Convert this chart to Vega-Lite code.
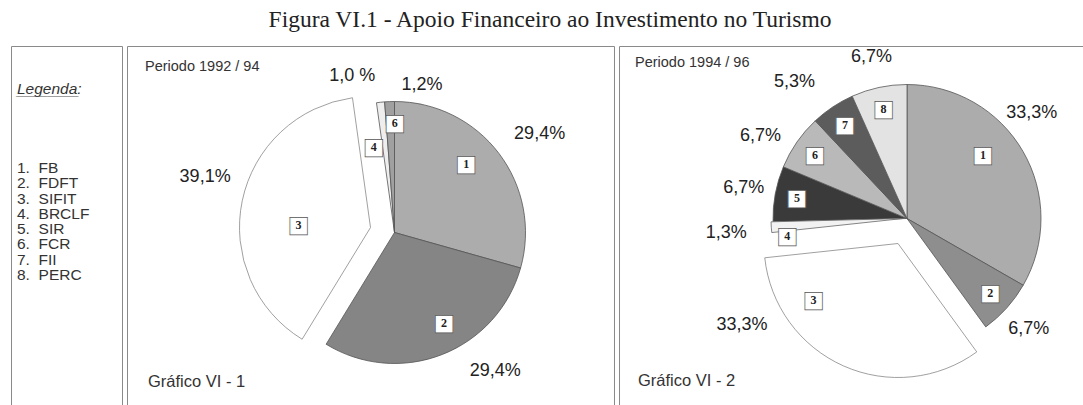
{
  "$schema": "https://vega.github.io/schema/vega-lite/v6.json",
  "background": "#ffffff",
  "padding": {"left": 10, "top": 8, "right": 0, "bottom": 0},
  "title": {"text": "Figura VI.1 - Apoio Financeiro ao Investimento no Turismo", "font": "Liberation Serif", "fontSize": 23.5, "fontWeight": "normal", "color": "#222222", "anchor": "middle", "offset": 14, "limit": 0},
  "config": {"view": {"stroke": "#8a8a8a", "strokeWidth": 1}},
  "spacing": 3,
  "resolve": {"scale": {"theta": "independent", "fill": "independent"}},
  "datasets": {
    "p1": [
      {"item": 1, "pct": 29.4, "label": "29,4%"},
      {"item": 2, "pct": 29.4, "label": "29,4%"},
      {"item": 3, "pct": 39.1, "label": "39,1%"},
      {"item": 4, "pct": 1.0, "label": "1,0 %"},
      {"item": 6, "pct": 1.2, "label": "1,2%"}
    ],
    "p2": [
      {"item": 1, "pct": 33.3, "label": "33,3%"},
      {"item": 2, "pct": 6.7, "label": "6,7%"},
      {"item": 3, "pct": 33.3, "label": "33,3%"},
      {"item": 4, "pct": 1.3, "label": "1,3%"},
      {"item": 5, "pct": 6.7, "label": "6,7%"},
      {"item": 6, "pct": 6.7, "label": "6,7%"},
      {"item": 7, "pct": 5.3, "label": "5,3%"},
      {"item": 8, "pct": 6.7, "label": "6,7%"}
    ],
    "leg": [
      {"item": 1, "entry": "1.\u00a0\u00a0FB"},
      {"item": 2, "entry": "2.\u00a0\u00a0FDFT"},
      {"item": 3, "entry": "3.\u00a0\u00a0SIFIT"},
      {"item": 4, "entry": "4.\u00a0\u00a0BRCLF"},
      {"item": 5, "entry": "5.\u00a0\u00a0SIR"},
      {"item": 6, "entry": "6.\u00a0\u00a0FCR"},
      {"item": 7, "entry": "7.\u00a0\u00a0FII"},
      {"item": 8, "entry": "8.\u00a0\u00a0PERC"}
    ]
  },
  "hconcat": [
    {
      "width": 111,
      "height": 359,
      "view": {"stroke": "#8a8a8a", "strokeWidth": 1},
      "layer": [
        {
          "data": {"values": [{}]},
          "layer": [
            {"mark": {"type": "text", "text": "Legenda:", "x": 6, "y": 43, "align": "left", "baseline": "middle", "font": "Liberation Sans", "fontStyle": "italic", "fontSize": 15.5, "fill": "#333333"}, "encoding": {}},
            {"mark": {"type": "text", "text": "________", "x": 6, "y": 45, "align": "left", "baseline": "middle", "font": "Liberation Sans", "fontStyle": "italic", "fontSize": 14, "fill": "#555555"}, "encoding": {}}
          ]
        },
        {
          "data": {"name": "leg"},
          "mark": {"type": "text", "x": 6, "align": "left", "baseline": "middle", "font": "Liberation Sans", "fontSize": 15.5, "letterSpacing": 1, "fill": "#333333"},
          "encoding": {
            "y": {"field": "item", "type": "quantitative", "scale": {"domain": [-6.98, 16.5], "reverse": true, "nice": false, "zero": false}, "axis": null},
            "text": {"field": "entry"}
          }
        }
      ]
    },
    {
      "width": 487,
      "height": 359,
      "view": {"stroke": "#8a8a8a", "strokeWidth": 1},
      "layer": [
        {
          "data": {"name": "p1"},
          "transform": [
            {"stack": "pct", "groupby": [], "sort": [{"field": "item", "order": "ascending"}], "as": ["t0", "t1"]},
            {"calculate": "(datum.t0 + datum.t1) / 2", "as": "mid"}
          ],
          "layer": [
            {
              "transform": [{"filter": "datum.item != 3"}],
              "mark": {"type": "arc", "outerRadius": 131, "stroke": "#555555", "strokeWidth": 0.8, "xOffset": 24, "yOffset": 7},
              "encoding": {
                "theta": {"field": "t0", "type": "quantitative", "scale": {"domain": [0, 100.1]}},
                "theta2": {"field": "t1"},
                "fill": {"field": "item", "type": "nominal", "scale": {"domain": [1, 2, 3, 4, 6], "range": ["#acacac", "#858585", "#ffffff", "#eeeeee", "#a0a0a0"]}, "legend": null}
              }
            },
            {
              "transform": [{"filter": "datum.item == 3"}],
              "mark": {"type": "arc", "outerRadius": 131, "stroke": "#888888", "strokeWidth": 0.8, "xOffset": 0, "yOffset": 2},
              "encoding": {
                "theta": {"field": "t0", "type": "quantitative"},
                "theta2": {"field": "t1"},
                "fill": {"field": "item", "type": "nominal", "legend": null}
              }
            },
            {
              "transform": [{"filter": "datum.item == 1"}],
              "encoding": {"theta": {"field": "mid", "type": "quantitative", "stack": false}},
              "layer": [
                {"mark": {"type": "text", "text": "■", "font": "DejaVu Sans", "fontSize": 23, "fill": "#ffffff", "stroke": "#555555", "strokeWidth": 0.7, "align": "center", "baseline": "middle", "radius": 100, "xOffset": 24, "yOffset": 7, "dx": -8, "dy": -8}},
                {"mark": {"type": "text", "font": "Liberation Serif", "fontWeight": "bold", "fontSize": 12, "fill": "#222222", "align": "center", "baseline": "middle", "radius": 100, "xOffset": 24, "yOffset": 7, "dx": -8, "dy": -8}, "encoding": {"text": {"field": "item"}}},
                {"mark": {"type": "text", "font": "Liberation Sans", "fontSize": 18, "letterSpacing": 0.8, "fill": "#222222", "align": "center", "baseline": "middle", "radius": 172, "xOffset": 24, "yOffset": 7, "dx": 8, "dy": 5}, "encoding": {"text": {"field": "label"}}}
              ]
            },
            {
              "transform": [{"filter": "datum.item == 2"}],
              "encoding": {"theta": {"field": "mid", "type": "quantitative", "stack": false}},
              "layer": [
                {"mark": {"type": "text", "text": "■", "font": "DejaVu Sans", "fontSize": 23, "fill": "#ffffff", "stroke": "#555555", "strokeWidth": 0.7, "align": "center", "baseline": "middle", "radius": 100, "xOffset": 24, "yOffset": 7, "dx": 13, "dy": -3}},
                {"mark": {"type": "text", "font": "Liberation Serif", "fontWeight": "bold", "fontSize": 12, "fill": "#222222", "align": "center", "baseline": "middle", "radius": 100, "xOffset": 24, "yOffset": 7, "dx": 13, "dy": -3}, "encoding": {"text": {"field": "item"}}},
                {"mark": {"type": "text", "font": "Liberation Sans", "fontSize": 18, "letterSpacing": 0.8, "fill": "#222222", "align": "center", "baseline": "middle", "radius": 172, "xOffset": 24, "yOffset": 7, "dx": 38, "dy": -22}, "encoding": {"text": {"field": "label"}}}
              ]
            },
            {
              "transform": [{"filter": "datum.item == 3"}],
              "encoding": {"theta": {"field": "mid", "type": "quantitative", "stack": false}},
              "layer": [
                {"mark": {"type": "text", "text": "■", "font": "DejaVu Sans", "fontSize": 23, "fill": "#ffffff", "stroke": "#555555", "strokeWidth": 0.7, "align": "center", "baseline": "middle", "radius": 100, "xOffset": 0, "yOffset": 2, "dx": 26, "dy": 18}},
                {"mark": {"type": "text", "font": "Liberation Serif", "fontWeight": "bold", "fontSize": 12, "fill": "#222222", "align": "center", "baseline": "middle", "radius": 100, "xOffset": 0, "yOffset": 2, "dx": 26, "dy": 18}, "encoding": {"text": {"field": "item"}}},
                {"mark": {"type": "text", "font": "Liberation Sans", "fontSize": 18, "letterSpacing": 0.8, "fill": "#222222", "align": "center", "baseline": "middle", "radius": 172, "xOffset": 0, "yOffset": 2, "dx": 3, "dy": -15}, "encoding": {"text": {"field": "label"}}}
              ]
            },
            {
              "transform": [{"filter": "datum.item == 4"}],
              "encoding": {"theta": {"field": "mid", "type": "quantitative", "stack": false}},
              "layer": [
                {"mark": {"type": "text", "text": "■", "font": "DejaVu Sans", "fontSize": 23, "fill": "#ffffff", "stroke": "#555555", "strokeWidth": 0.7, "align": "center", "baseline": "middle", "radius": 100, "xOffset": 24, "yOffset": 7, "dx": -10, "dy": 14}},
                {"mark": {"type": "text", "font": "Liberation Serif", "fontWeight": "bold", "fontSize": 12, "fill": "#222222", "align": "center", "baseline": "middle", "radius": 100, "xOffset": 24, "yOffset": 7, "dx": -10, "dy": 14}, "encoding": {"text": {"field": "item"}}},
                {"mark": {"type": "text", "font": "Liberation Sans", "fontSize": 18, "letterSpacing": 0.8, "fill": "#222222", "align": "center", "baseline": "middle", "radius": 172, "xOffset": 24, "yOffset": 7, "dx": -24, "dy": 15}, "encoding": {"text": {"field": "label"}}}
              ]
            },
            {
              "transform": [{"filter": "datum.item == 6"}],
              "encoding": {"theta": {"field": "mid", "type": "quantitative", "stack": false}},
              "layer": [
                {"mark": {"type": "text", "text": "■", "font": "DejaVu Sans", "fontSize": 23, "fill": "#ffffff", "stroke": "#555555", "strokeWidth": 0.7, "align": "center", "baseline": "middle", "radius": 100, "xOffset": 24, "yOffset": 7, "dx": 4, "dy": -10}},
                {"mark": {"type": "text", "font": "Liberation Serif", "fontWeight": "bold", "fontSize": 12, "fill": "#222222", "align": "center", "baseline": "middle", "radius": 100, "xOffset": 24, "yOffset": 7, "dx": 4, "dy": -10}, "encoding": {"text": {"field": "item"}}},
                {"mark": {"type": "text", "font": "Liberation Sans", "fontSize": 18, "letterSpacing": 0.8, "fill": "#222222", "align": "center", "baseline": "middle", "radius": 172, "xOffset": 24, "yOffset": 7, "dx": 34, "dy": 24}, "encoding": {"text": {"field": "label"}}}
              ]
            }
          ]
        },
        {
          "data": {"values": [{}]},
          "layer": [
            {"mark": {"type": "text", "text": "Periodo 1992 / 94", "x": 18, "y": 21, "align": "left", "baseline": "middle", "font": "Liberation Sans", "fontSize": 14.5, "letterSpacing": 0.8, "fill": "#333333"}, "encoding": {}},
            {"mark": {"type": "text", "text": "Gráfico VI - 1", "x": 21, "y": 336, "align": "left", "baseline": "middle", "font": "Liberation Sans", "fontSize": 16.5, "letterSpacing": 0.8, "fill": "#333333"}, "encoding": {}}
          ]
        }
      ]
    },
    {
      "width": 470,
      "height": 359,
      "view": {"stroke": "#8a8a8a", "strokeWidth": 1},
      "layer": [
        {
          "data": {"name": "p2"},
          "transform": [
            {"stack": "pct", "groupby": [], "sort": [{"field": "item", "order": "ascending"}], "as": ["t0", "t1"]},
            {"calculate": "(datum.t0 + datum.t1) / 2", "as": "mid"}
          ],
          "layer": [
            {
              "transform": [{"filter": "datum.item != 3 && datum.item != 4"}],
              "mark": {"type": "arc", "outerRadius": 134, "stroke": "#555555", "strokeWidth": 0.8, "xOffset": 53, "yOffset": -7},
              "encoding": {
                "theta": {"field": "t0", "type": "quantitative", "scale": {"domain": [0, 100]}},
                "theta2": {"field": "t1"},
                "fill": {"field": "item", "type": "nominal", "scale": {"domain": [1, 2, 3, 4, 5, 6, 7, 8], "range": ["#acacac", "#8e8e8e", "#ffffff", "#f2f2f2", "#3a3a3a", "#b9b9b9", "#5c5c5c", "#e3e3e3"]}, "legend": null}
              }
            },
            {
              "transform": [{"filter": "datum.item == 3"}],
              "mark": {"type": "arc", "outerRadius": 134, "stroke": "#888888", "strokeWidth": 0.8, "xOffset": 44, "yOffset": 18},
              "encoding": {
                "theta": {"field": "t0", "type": "quantitative"},
                "theta2": {"field": "t1"},
                "fill": {"field": "item", "type": "nominal", "legend": null}
              }
            },
            {
              "transform": [{"filter": "datum.item == 4"}],
              "mark": {"type": "arc", "outerRadius": 132, "stroke": "#666666", "strokeWidth": 0.8, "xOffset": 49, "yOffset": -7},
              "encoding": {
                "theta": {"field": "t0", "type": "quantitative"},
                "theta2": {"field": "t1"},
                "fill": {"field": "item", "type": "nominal", "legend": null}
              }
            },
            {
              "transform": [{"filter": "datum.item == 2 || datum.item >= 5"}],
              "encoding": {"theta": {"field": "mid", "type": "quantitative", "stack": false}},
              "layer": [
                {"mark": {"type": "text", "text": "■", "font": "DejaVu Sans", "fontSize": 23, "fill": "#ffffff", "stroke": "#555555", "strokeWidth": 0.7, "align": "center", "baseline": "middle", "radius": 112, "xOffset": 53, "yOffset": -7}},
                {"mark": {"type": "text", "font": "Liberation Serif", "fontWeight": "bold", "fontSize": 12, "fill": "#222222", "align": "center", "baseline": "middle", "radius": 112, "xOffset": 53, "yOffset": -7}, "encoding": {"text": {"field": "item"}}}
              ]
            },
            {
              "transform": [{"filter": "datum.item == 2 || datum.item == 5 || datum.item == 8"}],
              "mark": {"type": "text", "font": "Liberation Sans", "fontSize": 18, "letterSpacing": 0.8, "fill": "#222222", "align": "center", "baseline": "middle", "radius": 165, "xOffset": 52, "yOffset": -7},
              "encoding": {"theta": {"field": "mid", "type": "quantitative", "stack": false}, "text": {"field": "label"}}
            },
            {
              "transform": [{"filter": "datum.item == 6"}],
              "mark": {"type": "text", "font": "Liberation Sans", "fontSize": 18, "letterSpacing": 0.8, "fill": "#222222", "align": "center", "baseline": "middle", "radius": 165, "xOffset": 52, "yOffset": -7, "dx": -10, "dy": 12},
              "encoding": {"theta": {"field": "mid", "type": "quantitative", "stack": false}, "text": {"field": "label"}}
            },
            {
              "transform": [{"filter": "datum.item == 7"}],
              "mark": {"type": "text", "font": "Liberation Sans", "fontSize": 18, "letterSpacing": 0.8, "fill": "#222222", "align": "center", "baseline": "middle", "radius": 165, "xOffset": 52, "yOffset": -7, "dx": -20, "dy": 1},
              "encoding": {"theta": {"field": "mid", "type": "quantitative", "stack": false}, "text": {"field": "label"}}
            },
            {
              "transform": [{"filter": "datum.item == 1"}],
              "encoding": {"theta": {"field": "mid", "type": "quantitative", "stack": false}},
              "layer": [
                {"mark": {"type": "text", "text": "■", "font": "DejaVu Sans", "fontSize": 23, "fill": "#ffffff", "stroke": "#555555", "strokeWidth": 0.7, "align": "center", "baseline": "middle", "radius": 112, "xOffset": 53, "yOffset": -7, "dx": -21, "dy": -7}},
                {"mark": {"type": "text", "font": "Liberation Serif", "fontWeight": "bold", "fontSize": 12, "fill": "#222222", "align": "center", "baseline": "middle", "radius": 112, "xOffset": 53, "yOffset": -7, "dx": -21, "dy": -7}, "encoding": {"text": {"field": "item"}}},
                {"mark": {"type": "text", "font": "Liberation Sans", "fontSize": 18, "letterSpacing": 0.8, "fill": "#222222", "align": "center", "baseline": "middle", "radius": 165, "xOffset": 52, "yOffset": -7, "dx": -17, "dy": -23}, "encoding": {"text": {"field": "label"}}}
              ]
            },
            {
              "transform": [{"filter": "datum.item == 3"}],
              "encoding": {"theta": {"field": "mid", "type": "quantitative", "stack": false}},
              "layer": [
                {"mark": {"type": "text", "text": "■", "font": "DejaVu Sans", "fontSize": 23, "fill": "#ffffff", "stroke": "#555555", "strokeWidth": 0.7, "align": "center", "baseline": "middle", "radius": 112, "xOffset": 44, "yOffset": 18, "dx": -39, "dy": -46}},
                {"mark": {"type": "text", "font": "Liberation Serif", "fontWeight": "bold", "fontSize": 12, "fill": "#222222", "align": "center", "baseline": "middle", "radius": 112, "xOffset": 44, "yOffset": 18, "dx": -39, "dy": -46}, "encoding": {"text": {"field": "item"}}},
                {"mark": {"type": "text", "font": "Liberation Sans", "fontSize": 18, "letterSpacing": 0.8, "fill": "#222222", "align": "center", "baseline": "middle", "radius": 165, "xOffset": 43, "yOffset": 18, "dx": -88, "dy": -69}, "encoding": {"text": {"field": "label"}}}
              ]
            },
            {
              "transform": [{"filter": "datum.item == 4"}],
              "encoding": {"theta": {"field": "mid", "type": "quantitative", "stack": false}},
              "layer": [
                {"mark": {"type": "text", "text": "■", "font": "DejaVu Sans", "fontSize": 23, "fill": "#ffffff", "stroke": "#555555", "strokeWidth": 0.7, "align": "center", "baseline": "middle", "radius": 112, "xOffset": 49, "yOffset": -7, "dx": -4, "dy": 10}},
                {"mark": {"type": "text", "font": "Liberation Serif", "fontWeight": "bold", "fontSize": 12, "fill": "#222222", "align": "center", "baseline": "middle", "radius": 112, "xOffset": 49, "yOffset": -7, "dx": -4, "dy": 10}, "encoding": {"text": {"field": "item"}}},
                {"mark": {"type": "text", "font": "Liberation Sans", "fontSize": 18, "letterSpacing": 0.8, "fill": "#222222", "align": "center", "baseline": "middle", "radius": 165, "xOffset": 48, "yOffset": -7, "dx": -11, "dy": 4}, "encoding": {"text": {"field": "label"}}}
              ]
            }
          ]
        },
        {
          "data": {"values": [{}]},
          "layer": [
            {"mark": {"type": "text", "text": "Periodo 1994 / 96", "x": 16, "y": 17, "align": "left", "baseline": "middle", "font": "Liberation Sans", "fontSize": 14.5, "letterSpacing": 0.8, "fill": "#333333"}, "encoding": {}},
            {"mark": {"type": "text", "text": "Gráfico VI - 2", "x": 19, "y": 335, "align": "left", "baseline": "middle", "font": "Liberation Sans", "fontSize": 16.5, "letterSpacing": 0.8, "fill": "#333333"}, "encoding": {}}
          ]
        }
      ]
    }
  ]
}
